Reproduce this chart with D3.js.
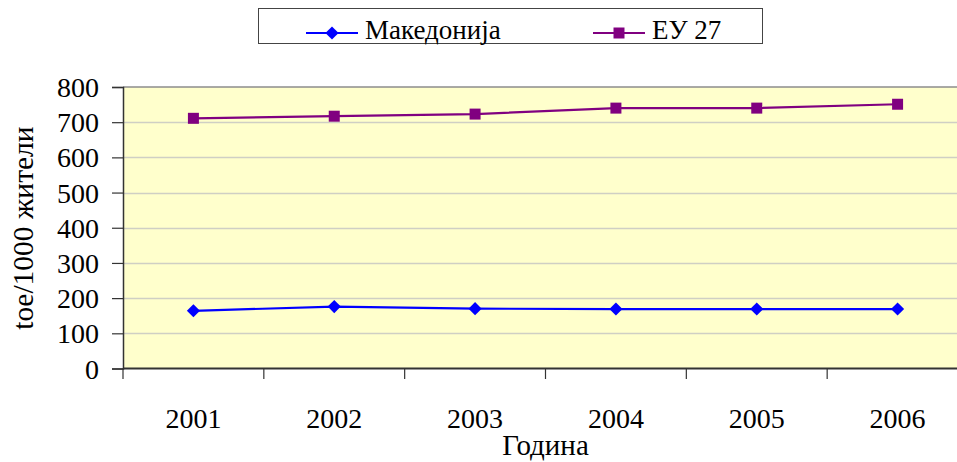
<!DOCTYPE html>
<html>
<head>
<meta charset="utf-8">
<script src="https://cdn.jsdelivr.net/npm/d3@7"></script>
<style>
  body { margin: 0; background: #fff; }
</style>
</head>
<body>
<svg id="svg1"></svg>
<script>
// data
const years = ["2001", "2002", "2003", "2004", "2005", "2006"];
const makedonija = [164, 176, 170, 169, 169, 169];
const eu27 = [711, 717, 723, 740, 740, 751];
const yTicks = [0, 100, 200, 300, 400, 500, 600, 700, 800];
const seriesNames = ["Македонија", "ЕУ 27"];

const serif = "'Liberation Serif', 'Times New Roman', Times, serif";

// layout
const width = 957, height = 462;
const plot = {left: 123, top: 87, bottom: 368.5, right: 968};

const svg = d3.select("#svg1")
    .attr("width", width)
    .attr("height", height);

const x = d3.scaleBand()
    .domain(years)
    .range([plot.left, plot.right]);

const y = d3.scaleLinear()
    .domain([0, 800])
    .range([plot.bottom, plot.top]);

// plot background
svg.append("rect")
    .attr("x", plot.left)
    .attr("y", plot.top)
    .attr("width", plot.right - plot.left)
    .attr("height", plot.bottom - plot.top)
    .attr("fill", "#ffffcc");

// gridlines
svg.append("g")
    .selectAll("line")
    .data(yTicks.filter(d => d > 0 && d < 800))
    .enter()
    .append("line")
    .attr("x1", plot.left)
    .attr("x2", plot.right)
    .attr("y1", d => Math.round(y(d)) + 0.5)
    .attr("y2", d => Math.round(y(d)) + 0.5)
    .attr("stroke", "#cfcfc4")
    .attr("stroke-width", 1.5);

// top border
svg.append("line")
    .attr("x1", plot.left).attr("x2", plot.right)
    .attr("y1", plot.top).attr("y2", plot.top)
    .attr("stroke", "#8c8c8c")
    .attr("stroke-width", 1.5);

// Y axis
const yAxis = svg.append("g")
    .attr("transform", "translate(" + plot.left + ",0)")
    .call(d3.axisLeft(y).tickValues(yTicks).tickSize(11).tickPadding(13));
yAxis.select(".domain").attr("stroke", "#333").attr("stroke-width", 1.5);
yAxis.selectAll(".tick line").attr("stroke", "#333").attr("stroke-width", 1.2);
yAxis.selectAll("text")
    .style("font-family", serif)
    .style("font-size", "28px")
    .attr("fill", "#000")
    .attr("dy", "0.34em");

// X axis
const xAxis = svg.append("g")
    .attr("transform", "translate(0," + plot.bottom + ")");
xAxis.append("line")
    .attr("x1", plot.left).attr("x2", plot.right)
    .attr("stroke", "#333").attr("stroke-width", 2);
xAxis.selectAll(".xtick")
    .data(years)
    .enter()
    .append("line")
    .attr("x1", d => x(d)).attr("x2", d => x(d))
    .attr("y1", 0).attr("y2", 10.5)
    .attr("stroke", "#333").attr("stroke-width", 1.2);
xAxis.selectAll(".xlabel")
    .data(years)
    .enter()
    .append("text")
    .attr("x", d => x(d) + x.bandwidth() / 2)
    .attr("y", 59.5)
    .attr("text-anchor", "middle")
    .style("font-family", serif)
    .style("font-size", "28px")
    .text(d => d);

// axis titles
svg.append("text")
    .attr("transform", "translate(33,228) rotate(-90)")
    .attr("text-anchor", "middle")
    .style("font-family", serif)
    .style("font-size", "29.5px")
    .text("toe/1000 жители");

svg.append("text")
    .attr("x", (plot.left + plot.right) / 2)
    .attr("y", 455)
    .attr("text-anchor", "middle")
    .style("font-family", serif)
    .style("font-size", "29px")
    .text("Година");

// lines
const line = d3.line()
    .x((d, i) => x(years[i]) + x.bandwidth() / 2)
    .y(d => y(d));

svg.append("path")
    .datum(eu27)
    .attr("d", line)
    .attr("fill", "none")
    .attr("stroke", "#800080")
    .attr("stroke-width", 2.2);

svg.append("path")
    .datum(makedonija)
    .attr("d", line)
    .attr("fill", "none")
    .attr("stroke", "#0000ff")
    .attr("stroke-width", 2.2);

// markers
const square = d3.symbol().type(d3.symbolSquare).size(121);
const diamond = d3.symbol().type(d3.symbolDiamond2).size(110);

svg.selectAll(".sq")
    .data(eu27)
    .enter()
    .append("path")
    .attr("d", square)
    .attr("transform", (d, i) => "translate(" + (x(years[i]) + x.bandwidth() / 2) + "," + y(d) + ")")
    .attr("fill", "#800080");

svg.selectAll(".dm")
    .data(makedonija)
    .enter()
    .append("path")
    .attr("d", diamond)
    .attr("transform", (d, i) => "translate(" + (x(years[i]) + x.bandwidth() / 2) + "," + y(d) + ")")
    .attr("fill", "#0000ff");

// legend
const legend = svg.append("g");
legend.append("rect")
    .attr("x", 258.5).attr("y", 8.5)
    .attr("width", 504).attr("height", 35)
    .attr("fill", "#fff")
    .attr("stroke", "#444")
    .attr("stroke-width", 1);

const legendItems = [
  {name: seriesNames[0], color: "#0000ff", sym: diamond, x0: 306},
  {name: seriesNames[1], color: "#800080", sym: square, x0: 593}
];
legendItems.forEach(function(item) {
  legend.append("line")
      .attr("x1", item.x0).attr("x2", item.x0 + 52)
      .attr("y1", 33).attr("y2", 33)
      .attr("stroke", item.color).attr("stroke-width", 2.2);
  legend.append("path")
      .attr("d", item.sym)
      .attr("transform", "translate(" + (item.x0 + 26) + ",33)")
      .attr("fill", item.color);
  legend.append("text")
      .attr("x", item.x0 + 59)
      .attr("y", 39)
      .style("font-family", serif)
      .style("font-size", "27px")
      .text(item.name);
});
</script>
</body>
</html>
